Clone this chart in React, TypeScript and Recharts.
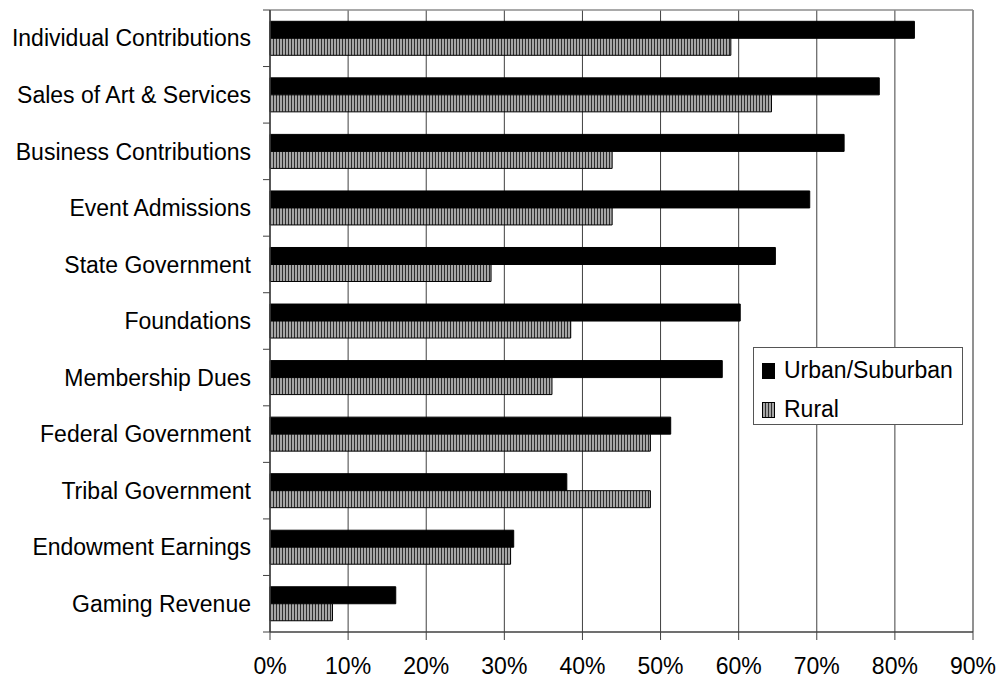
import React from 'react';
import { BarChart, Bar, XAxis, YAxis, CartesianGrid, Legend } from 'recharts';

// Funding sources, listed top to bottom
const categories = [
  'Individual Contributions',
  'Sales of Art & Services',
  'Business Contributions',
  'Event Admissions',
  'State Government',
  'Foundations',
  'Membership Dues',
  'Federal Government',
  'Tribal Government',
  'Endowment Earnings',
  'Gaming Revenue',
];

// Share of organizations reporting each source (%)
const urbanSuburban = [82.5, 78.0, 73.5, 69.1, 64.7, 60.2, 57.9, 51.3, 38.0, 31.2, 16.1];
const rural = [59.0, 64.2, 43.8, 43.8, 28.3, 38.5, 36.1, 48.7, 48.7, 30.8, 8.0];

const percentTicks = [0, 10, 20, 30, 40, 50, 60, 70, 80, 90];

// Legend order
const seriesOrder = ['urban', 'rural'];

const data = categories.map((name, i) => ({
  name,
  urban: urbanSuburban[i],
  rural: rural[i],
}));

const FONT = '"Liberation Sans", Arial, Helvetica, sans-serif';
const AXIS = '#404040';
const BORDER = '#8c8c8c';
const LABEL_GAP = 19;

// Category label plus a short tick at the band boundary above it
const CategoryTick = (props: any) => {
  const { x, y, payload, index, visibleTicksCount } = props;
  const half = payload && typeof payload.offset === 'number' ? payload.offset : 0;
  const axisX = x + LABEL_GAP;
  return (
    <g>
      <line x1={axisX - 7} x2={axisX} y1={y - half} y2={y - half} stroke={AXIS} strokeWidth={1} />
      {index === visibleTicksCount - 1 && (
        <line x1={axisX - 7} x2={axisX} y1={y + half} y2={y + half} stroke={AXIS} strokeWidth={1} />
      )}
      <text
        x={x}
        y={y}
        dy="0.355em"
        textAnchor="end"
        fontSize={23}
        fontFamily={FONT}
        fill="#000"
      >
        {payload.value}
      </text>
    </g>
  );
};

const Swatch = ({ dataKey }: { dataKey: string }) => (
  <svg width={13} height={16} style={{ display: 'block' }}>
    <defs>
      <pattern id="legendStripes" width={3} height={4} patternUnits="userSpaceOnUse">
        <rect width={3} height={4} fill="#a6a6a6" />
        <rect width={1} height={4} fill="#2e2e2e" />
      </pattern>
    </defs>
    <rect
      x={0.5}
      y={0.5}
      width={12}
      height={15}
      fill={dataKey === 'rural' ? 'url(#legendStripes)' : '#000'}
      stroke="#000"
      strokeWidth={1}
    />
  </svg>
);

const LegendBox = (props: any) => {
  const items = [...(props.payload || [])].sort(
    (a: any, b: any) => seriesOrder.indexOf(a.dataKey) - seriesOrder.indexOf(b.dataKey)
  );
  return (
    <div
      style={{
        width: 210,
        height: 78,
        boxSizing: 'border-box',
        border: '1px solid #555',
        background: '#fff',
        paddingTop: 3,
        fontFamily: FONT,
        fontSize: 23,
        color: '#000',
      }}
    >
      {items.map((item: any) => (
        <div
          key={item.dataKey}
          style={{ display: 'flex', alignItems: 'center', height: 39, paddingLeft: 8 }}
        >
          <Swatch dataKey={item.dataKey} />
          <span style={{ marginLeft: 9, lineHeight: '23px' }}>{item.value}</span>
        </div>
      ))}
    </div>
  );
};

export default function App() {
  return (
    <div style={{ position: 'absolute', left: 0, top: 0, width: 1001, height: 681, background: '#fff' }}>
      <BarChart
        width={1001}
        height={681}
        data={data}
        layout="vertical"
        margin={{ top: 10, right: 28, left: 0, bottom: 0 }}
        barCategoryGap="20%"
        barGap={0}
      >
        <defs>
          <pattern id="ruralStripes" width={3} height={4} patternUnits="userSpaceOnUse">
            <rect width={3} height={4} fill="#a6a6a6" />
            <rect width={1} height={4} fill="#2e2e2e" />
          </pattern>
        </defs>
        <CartesianGrid horizontal={false} stroke={AXIS} strokeWidth={1} />
        <CartesianGrid
          stroke={BORDER}
          strokeWidth={1.5}
          horizontalCoordinatesGenerator={({ offset }: any) => [offset.top]}
          verticalCoordinatesGenerator={({ offset }: any) => [offset.left + offset.width]}
        />
        <XAxis
          type="number"
          domain={[0, 90]}
          ticks={percentTicks}
          interval={0}
          height={49}
          tickSize={8}
          tickMargin={18}
          tickFormatter={(v: number) => `${v}%`}
          axisLine={{ stroke: AXIS, strokeWidth: 1.5 }}
          tickLine={{ stroke: AXIS }}
          tick={{ fill: '#000', fontSize: 23, fontFamily: FONT }}
        />
        <YAxis
          type="category"
          dataKey="name"
          width={270}
          interval={0}
          tickSize={0}
          tickMargin={LABEL_GAP}
          tickLine={false}
          axisLine={{ stroke: AXIS, strokeWidth: 1.5 }}
          tick={<CategoryTick />}
        />
        <Legend
          layout="vertical"
          align="center"
          verticalAlign="middle"
          itemSorter={null as any}
          wrapperStyle={{ left: 753, top: 347, width: 210, height: 78 }}
          content={<LegendBox />}
        />
        <Bar
          dataKey="urban"
          name="Urban/Suburban"
          fill="#000"
          stroke="#000"
          strokeWidth={1}
          isAnimationActive={false}
        />
        <Bar
          dataKey="rural"
          name="Rural"
          fill="url(#ruralStripes)"
          stroke="#000"
          strokeWidth={1}
          isAnimationActive={false}
        />
      </BarChart>
    </div>
  );
}
